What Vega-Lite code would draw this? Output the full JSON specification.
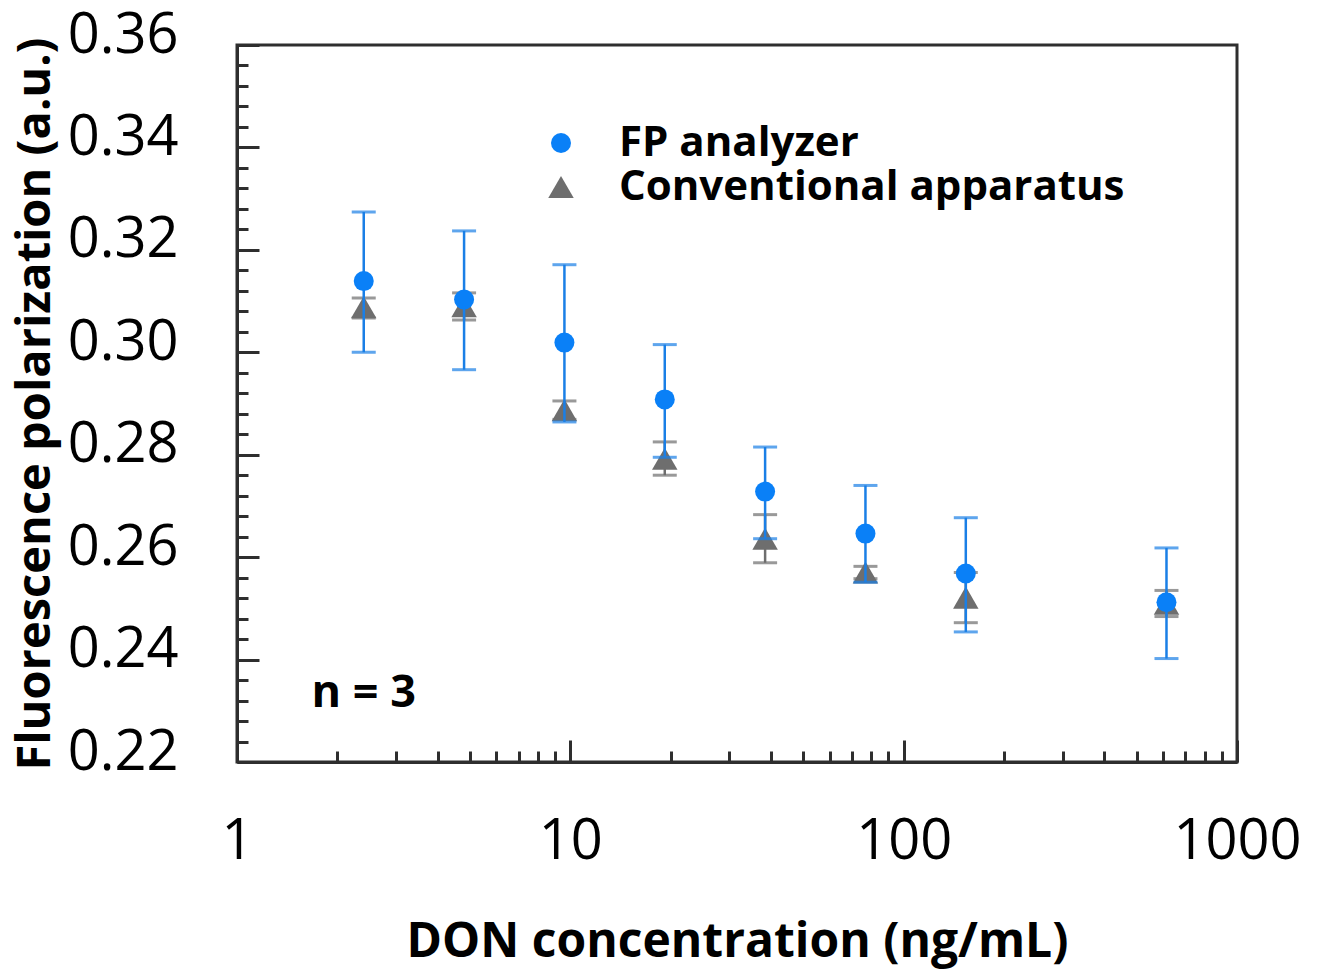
{
  "$schema": "https://vega.github.io/schema/vega-lite/v6.json",
  "autosize": "none",
  "width": 1000,
  "height": 717,
  "padding": {"left": 237, "top": 45, "right": 82, "bottom": 209},
  "background": "white",
  "config": {
    "font": "Open Sans",
    "view": {"stroke": "#2e2e2e", "strokeWidth": 3},
    "axis": {"grid": false}
  },
  "datasets": {
    "pts": [
      {"series": "Conventional apparatus", "conc": 2.4, "fp": 0.3088, "lo": 0.3067, "hi": 0.3106},
      {"series": "Conventional apparatus", "conc": 4.8, "fp": 0.3090, "lo": 0.3063, "hi": 0.3116},
      {"series": "Conventional apparatus", "conc": 9.6, "fp": 0.2887, "lo": 0.2869, "hi": 0.2905},
      {"series": "Conventional apparatus", "conc": 19.2, "fp": 0.2792, "lo": 0.2760, "hi": 0.2825},
      {"series": "Conventional apparatus", "conc": 38.4, "fp": 0.2636, "lo": 0.2589, "hi": 0.2683},
      {"series": "Conventional apparatus", "conc": 76.8, "fp": 0.2570, "lo": 0.2558, "hi": 0.2582},
      {"series": "Conventional apparatus", "conc": 153.6, "fp": 0.2521, "lo": 0.2472, "hi": 0.2570},
      {"series": "Conventional apparatus", "conc": 614.4, "fp": 0.2509, "lo": 0.2484, "hi": 0.2535},
      {"series": "FP analyzer", "conc": 2.4, "fp": 0.3139, "lo": 0.3000, "hi": 0.3274},
      {"series": "FP analyzer", "conc": 4.8, "fp": 0.3103, "lo": 0.2966, "hi": 0.3237},
      {"series": "FP analyzer", "conc": 9.6, "fp": 0.3019, "lo": 0.2864, "hi": 0.3171},
      {"series": "FP analyzer", "conc": 19.2, "fp": 0.2908, "lo": 0.2795, "hi": 0.3015},
      {"series": "FP analyzer", "conc": 38.4, "fp": 0.2728, "lo": 0.2636, "hi": 0.2815},
      {"series": "FP analyzer", "conc": 76.8, "fp": 0.2646, "lo": 0.2551, "hi": 0.2740},
      {"series": "FP analyzer", "conc": 153.6, "fp": 0.2568, "lo": 0.2454, "hi": 0.2677},
      {"series": "FP analyzer", "conc": 614.4, "fp": 0.2512, "lo": 0.2402, "hi": 0.2618}
    ],
    "note": [{"label": "n = 3", "conc": 2.4, "fp": 0.2335}]
  },
  "layer": [
    {
      "data": {"name": "pts"},
      "transform": [{"filter": "datum.series == 'Conventional apparatus'"}],
      "mark": {"type": "rule", "strokeWidth": 2.5, "color": "#6e6e6e"},
      "encoding": {
        "x": {"field": "conc", "type": "quantitative", "scale": {"type": "log", "domain": [1, 1000]},
          "title": "DON concentration (ng/mL)",
          "axis": {
            "values": [1,2,3,4,5,6,7,8,9,10,20,30,40,50,60,70,80,90,100,200,300,400,500,600,700,800,900,1000],
            "tickCount": 200,
            "labelExpr": "(datum.value==1||datum.value==10||datum.value==100||datum.value==1000) ? format(datum.value,'d') : ''",
            "tickSize": {"condition": {"test": "datum.value==1||datum.value==10||datum.value==100||datum.value==1000", "value": -22}, "value": -11},
            "tickWidth": 3, "tickColor": "#2e2e2e",
            "domainColor": "#2e2e2e", "domainWidth": 3,
            "labelFontSize": 56, "labelColor": "black", "labelPadding": 74,
            "labelFlush": false, "labelOverlap": false, "labelBound": false,
            "titleFontSize": 48, "titleFontWeight": "bold", "titleColor": "black", "titlePadding": 38
          }},
        "y": {"field": "lo", "type": "quantitative", "scale": {"domain": [0.22, 0.36], "nice": false, "zero": false},
          "title": "Fluorescence polarization (a.u.)",
          "axis": {
            "values": [0.22,0.224,0.228,0.232,0.236,0.24,0.244,0.248,0.252,0.256,0.26,0.264,0.268,0.272,0.276,0.28,0.284,0.288,0.292,0.296,0.3,0.304,0.308,0.312,0.316,0.32,0.324,0.328,0.332,0.336,0.34,0.344,0.348,0.352,0.356,0.36],
            "tickCount": 200,
            "labelExpr": "abs(datum.value*50 - round(datum.value*50)) < 0.000001 ? format(datum.value,'.2f') : ''",
            "tickSize": {"condition": {"test": "abs(datum.value*50 - round(datum.value*50)) < 0.000001", "value": -22}, "value": -11},
            "tickWidth": 3, "tickColor": "#2e2e2e",
            "domainColor": "#2e2e2e", "domainWidth": 3,
            "labelFontSize": 56, "labelColor": "black", "labelPadding": 81, "labelOffset": -10,
            "labelOverlap": false, "labelBound": false, "labelFlush": false,
            "titleFontSize": 47, "titleFontWeight": "bold", "titleColor": "black", "titlePadding": 8
          }},
        "y2": {"field": "hi"}
      }
    },
    {
      "data": {"name": "pts"},
      "transform": [{"filter": "datum.series == 'Conventional apparatus'"}],
      "mark": {"type": "tick", "orient": "horizontal", "size": 24, "thickness": 3, "color": "#6e6e6e"},
      "encoding": {"x": {"field": "conc", "type": "quantitative"}, "y": {"field": "lo", "type": "quantitative"}}
    },
    {
      "data": {"name": "pts"},
      "transform": [{"filter": "datum.series == 'Conventional apparatus'"}],
      "mark": {"type": "tick", "orient": "horizontal", "size": 24, "thickness": 3, "color": "#6e6e6e"},
      "encoding": {"x": {"field": "conc", "type": "quantitative"}, "y": {"field": "hi", "type": "quantitative"}}
    },
    {
      "data": {"name": "pts"},
      "transform": [{"filter": "datum.series == 'Conventional apparatus'"}],
      "mark": {"type": "point", "filled": true, "opacity": 1},
      "encoding": {
        "x": {"field": "conc", "type": "quantitative"},
        "y": {"field": "fp", "type": "quantitative"},
        "color": {"field": "series", "type": "nominal",
          "scale": {"domain": ["FP analyzer", "Conventional apparatus"], "range": ["#0a80f7", "#6e6e6e"]},
          "legend": {"title": null, "orient": "none", "legendX": 303, "legendY": 77, "labelFontSize": 42, "labelFontWeight": "bold", "labelColor": "black", "labelOffset": 37, "rowPadding": 2, "labelLimit": 800}},
        "shape": {"field": "series", "type": "nominal",
          "scale": {"domain": ["FP analyzer", "Conventional apparatus"], "range": ["circle", "triangle-up"]}},
        "size": {"field": "series", "type": "ordinal",
          "scale": {"domain": ["FP analyzer", "Conventional apparatus"], "range": [400, 650]}}
      }
    },
    {
      "data": {"name": "pts"},
      "transform": [{"filter": "datum.series == 'FP analyzer'"}],
      "mark": {"type": "rule", "strokeWidth": 2.5, "color": "#1a7fe6"},
      "encoding": {"x": {"field": "conc", "type": "quantitative"}, "y": {"field": "lo", "type": "quantitative"}, "y2": {"field": "hi"}}
    },
    {
      "data": {"name": "pts"},
      "transform": [{"filter": "datum.series == 'FP analyzer'"}],
      "mark": {"type": "tick", "orient": "horizontal", "size": 24, "thickness": 3, "color": "#1a7fe6"},
      "encoding": {"x": {"field": "conc", "type": "quantitative"}, "y": {"field": "lo", "type": "quantitative"}}
    },
    {
      "data": {"name": "pts"},
      "transform": [{"filter": "datum.series == 'FP analyzer'"}],
      "mark": {"type": "tick", "orient": "horizontal", "size": 24, "thickness": 3, "color": "#1a7fe6"},
      "encoding": {"x": {"field": "conc", "type": "quantitative"}, "y": {"field": "hi", "type": "quantitative"}}
    },
    {
      "data": {"name": "pts"},
      "transform": [{"filter": "datum.series == 'FP analyzer'"}],
      "mark": {"type": "point", "filled": true, "opacity": 1},
      "encoding": {
        "x": {"field": "conc", "type": "quantitative"},
        "y": {"field": "fp", "type": "quantitative"},
        "color": {"field": "series", "type": "nominal"},
        "shape": {"field": "series", "type": "nominal"},
        "size": {"field": "series", "type": "ordinal"}
      }
    },
    {
      "data": {"name": "note"},
      "mark": {"type": "text", "fontSize": 45, "fontWeight": "bold", "color": "black", "align": "center", "baseline": "middle"},
      "encoding": {
        "x": {"field": "conc", "type": "quantitative"},
        "y": {"field": "fp", "type": "quantitative"},
        "text": {"field": "label"}
      }
    }
  ]
}
